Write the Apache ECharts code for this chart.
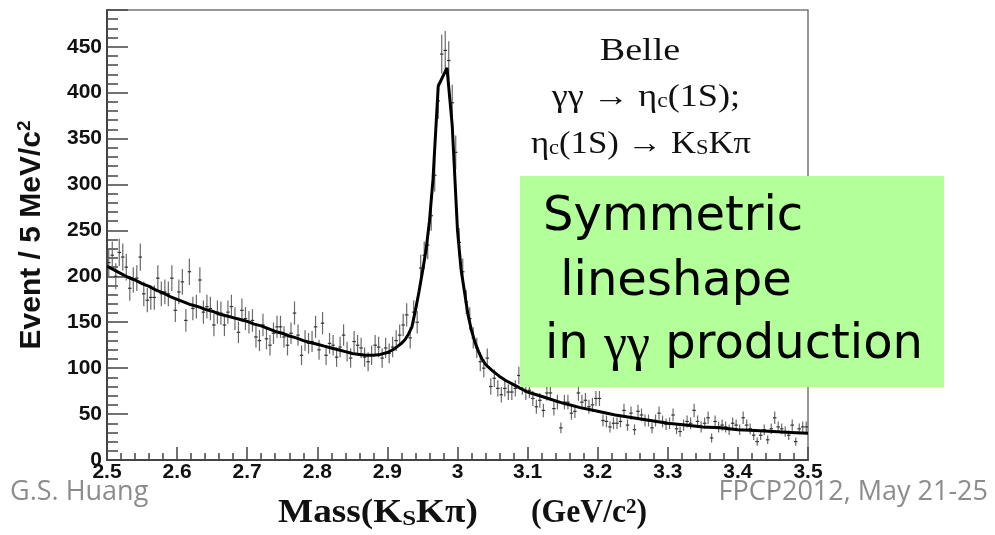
<!DOCTYPE html>
<html>
<head>
<meta charset="utf-8">
<script src="https://cdn.jsdelivr.net/npm/echarts@6/dist/echarts.min.js"></script>
<style>
html,body{margin:0;padding:0;background:#fff;}
#chart{width:995px;height:535px;}
</style>
</head>
<body>
<div id="chart"></div>
<script>
// Histogram: 200 bins of 5 MeV from 2.5 to 3.5 GeV/c^2
const binLow = 2.5;
const binWidth = 0.005;
const counts = [
  215,223,200,226,221,210,187,196,198,221,181,174,177,177,198,181,183,181,198,163,
  183,194,152,205,165,167,196,161,167,165,147,161,160,147,161,167,154,139,163,154,
  150,152,134,130,147,132,125,138,145,145,134,125,138,160,136,114,130,127,129,145,
  120,149,114,127,125,112,123,136,118,111,129,125,122,112,107,114,125,123,111,122,
  116,123,130,136,147,158,133,161,150,209,223,234,266,310,391,442,446,435,389,335,
  237,205,172,154,133,122,107,100,111,80,89,78,71,78,74,74,78,92,80,74,
  76,67,58,65,54,73,73,56,63,35,63,63,51,53,73,63,65,58,60,67,
  67,43,42,36,40,40,42,54,38,51,33,53,49,43,43,35,43,51,42,39,
  40,49,34,31,38,42,40,54,42,36,40,46,24,42,36,38,36,33,40,38,
  33,46,38,34,27,20,27,33,22,34,46,36,34,31,27,38,20,34,36,36
];
// Fitted curve
const curveX = [
  2.50,2.51,2.52,2.53,2.54,2.55,2.56,2.57,2.58,2.59,2.60,2.61,2.62,2.63,2.64,2.65,2.66,2.67,2.68,2.69,
  2.70,2.71,2.72,2.73,2.74,2.75,2.76,2.77,2.78,2.79,2.80,2.81,2.82,2.83,2.84,2.85,2.86,2.87,2.88,2.89,
  2.90,2.905,2.91,2.915,2.92,2.925,2.93,2.935,2.94,2.945,2.95,2.955,2.96,2.965,2.9725,2.985,2.9925,3.0,
  3.005,3.01,3.015,3.02,3.025,3.03,3.035,3.04,3.05,3.06,3.07,3.08,3.09,3.10,3.125,3.15,3.175,3.20,
  3.225,3.25,3.275,3.30,3.325,3.35,3.375,3.40,3.425,3.45,3.475,3.50
];
const curveY = [
  211,207,203,199,196,192,189,185,182,178,175,172,169,167,164,162,159,157,155,153,
  151,148,146,143,140,138,135,133,130,128,126,124,122,120,118,116,115,114,114,115,
  117,119,121,124,127,131,137,145,163,183,205,228,260,305,407,427,364,250,
  208,183,158,141,128,118,110,104,97,91,86,82,78,74,68,62,57,53,
  49,46,43,40,38,36,35,33,32,31,30,29
];
const yLabelStep = 50;

const histData = counts.map((c, i) => [binLow + (i + 0.5) * binWidth, c]);
const curveData = curveX.map((x, i) => [x, curveY[i]]);

const chart = echarts.init(document.getElementById('chart'), null, {renderer: 'canvas'});
const axisFont = 'Liberation Sans';
const serif = 'Liberation Serif';
const option = {
  animation: false,
  backgroundColor: '#fff',
  grid: {left: 107, right: 187, top: 10, bottom: 75, show: true, borderColor: '#777', borderWidth: 1.5, backgroundColor: 'transparent'},
  xAxis: {
    type: 'value', min: 2.5, max: 3.5, interval: 0.1,
    axisLine: {show: true, lineStyle: {color: '#444', width: 2}},
    axisTick: {show: true, inside: true, length: 13, lineStyle: {color: '#444', width: 1.5}},
    minorTick: {show: true, splitNumber: 5, length: 7, lineStyle: {color: '#444', width: 1.5}},
    splitLine: {show: false},
    axisLabel: {color: '#111', fontFamily: axisFont, fontWeight: 'bold', fontSize: 21, margin: 2}
  },
  yAxis: {
    type: 'value', min: 0, max: 490, interval: 50,
    axisLine: {show: true, lineStyle: {color: '#444', width: 2}},
    axisTick: {show: true, inside: true, length: 21, lineStyle: {color: '#444', width: 1.5}},
    minorTick: {show: true, splitNumber: 5, length: 11, lineStyle: {color: '#444', width: 1.5}},
    splitLine: {show: false},
    axisLabel: {color: '#111', fontFamily: axisFont, fontWeight: 'bold', fontSize: 21, margin: 5,
      formatter: v => (v % yLabelStep === 0 ? String(v) : '')}
  },
  series: [
    {
      type: 'custom',
      data: histData,
      encode: {x: 0, y: 1},
      z: 2,
      renderItem: function (params, api) {
        const x = api.value(0), v = api.value(1), e = Math.sqrt(v);
        const c = api.coord([x, v]);
        const t = api.coord([x, v + e]);
        const b = api.coord([x, v - e]);
        const hw = api.size([binWidth, 0])[0] / 2;
        return {
          type: 'group',
          children: [
            {type: 'line', shape: {x1: c[0], y1: t[1], x2: c[0], y2: b[1]}, style: {stroke: '#6a6a6a', lineWidth: 1.2}},
            {type: 'line', shape: {x1: c[0] - hw, y1: c[1], x2: c[0] + hw, y2: c[1]}, style: {stroke: '#333', lineWidth: 1.2}}
          ]
        };
      }
    },
    {
      type: 'line',
      data: curveData,
      showSymbol: false,
      symbol: 'none',
      smooth: false,
      z: 3,
      lineStyle: {color: '#000', width: 3}
    }
  ],
  graphic: [
    // Y axis title
    {type: 'text', x: 32, y: 235, rotation: Math.PI / 2, z: 50,
      style: {text: '{a|Event / 5 MeV/c}{s|2}', align: 'center', verticalAlign: 'middle',
        rich: {a: {fontFamily: axisFont, fontWeight: 'bold', fontSize: 30, fill: '#111'},
               s: {fontFamily: axisFont, fontWeight: 'bold', fontSize: 19, fill: '#111', padding: [0, 0, 14, 0]}}}},
    // X axis title
    {type: 'text', x: 278, y: 513, z: 50, scaleX: 1.13,
      style: {text: '{a|Mass(K}{s|S}{a|Kπ)}', align: 'left', verticalAlign: 'middle',
        rich: {a: {fontFamily: serif, fontWeight: 'bold', fontSize: 33, fill: '#111'},
               s: {fontFamily: serif, fontWeight: 'bold', fontSize: 22, fill: '#111', padding: [12, 0, 0, 0]}}}},
    {type: 'text', x: 531, y: 513, z: 50, scaleX: 0.96,
      style: {text: '{a|(GeV/c}{s|2}{a|)}', align: 'left', verticalAlign: 'middle',
        rich: {a: {fontFamily: serif, fontWeight: 'bold', fontSize: 33, fill: '#111'},
               s: {fontFamily: serif, fontWeight: 'bold', fontSize: 22, fill: '#111', padding: [0, 0, 12, 0]}}}},
    // Belle annotation
    {type: 'text', x: 640, y: 52, z: 50, scaleX: 1.23,
      style: {text: 'Belle', align: 'center', verticalAlign: 'middle', fontFamily: serif, fontSize: 31, fill: '#111'}},
    {type: 'text', x: 646, y: 98, z: 50, scaleX: 1.17,
      style: {text: '{a|γγ → η}{s|c}{a|(1S);}', align: 'center', verticalAlign: 'middle',
        rich: {a: {fontFamily: serif, fontSize: 31, fill: '#111'},
               s: {fontFamily: serif, fontSize: 20, fill: '#111', padding: [8, 0, 0, 0]}}}},
    {type: 'text', x: 641, y: 145, z: 50, scaleX: 1.12,
      style: {text: '{a|η}{s|c}{a|(1S) → K}{s|S}{a|Kπ}', align: 'center', verticalAlign: 'middle',
        rich: {a: {fontFamily: serif, fontSize: 31, fill: '#111'},
               s: {fontFamily: serif, fontSize: 20, fill: '#111', padding: [8, 0, 0, 0]}}}},
    // Green note box
    {type: 'rect', z: 100, shape: {x: 520, y: 176, width: 424, height: 211}, style: {fill: '#b3ff99'}},
    {type: 'text', x: 543, y: 218, z: 101,
      style: {text: 'Symmetric', align: 'left', verticalAlign: 'middle', fontFamily: 'DejaVu Sans', fontSize: 48, fill: '#000'}},
    {type: 'text', x: 545, y: 283, z: 101,
      style: {text: ' lineshape', align: 'left', verticalAlign: 'middle', fontFamily: 'DejaVu Sans', fontSize: 48, fill: '#000'}},
    {type: 'text', x: 545, y: 346, z: 101,
      style: {text: '{a|in }{g|γγ}{a| production}', align: 'left', verticalAlign: 'middle',
        rich: {a: {fontFamily: 'DejaVu Sans', fontSize: 48, fill: '#000'},
               g: {fontFamily: serif, fontSize: 52, fill: '#000'}}}},
    // Footer
    {type: 'text', x: 10, y: 492, z: 50,
      style: {text: 'G.S. Huang', align: 'left', verticalAlign: 'middle', fontFamily: 'Open Sans', fontSize: 27, fill: '#8c8c8c'}},
    {type: 'text', x: 988, y: 492, z: 50,
      style: {text: 'FPCP2012, May 21-25', align: 'right', verticalAlign: 'middle', fontFamily: 'Open Sans', fontSize: 27, fill: '#8c8c8c'}}
  ]
};
chart.setOption(option);
</script>
</body>
</html>
